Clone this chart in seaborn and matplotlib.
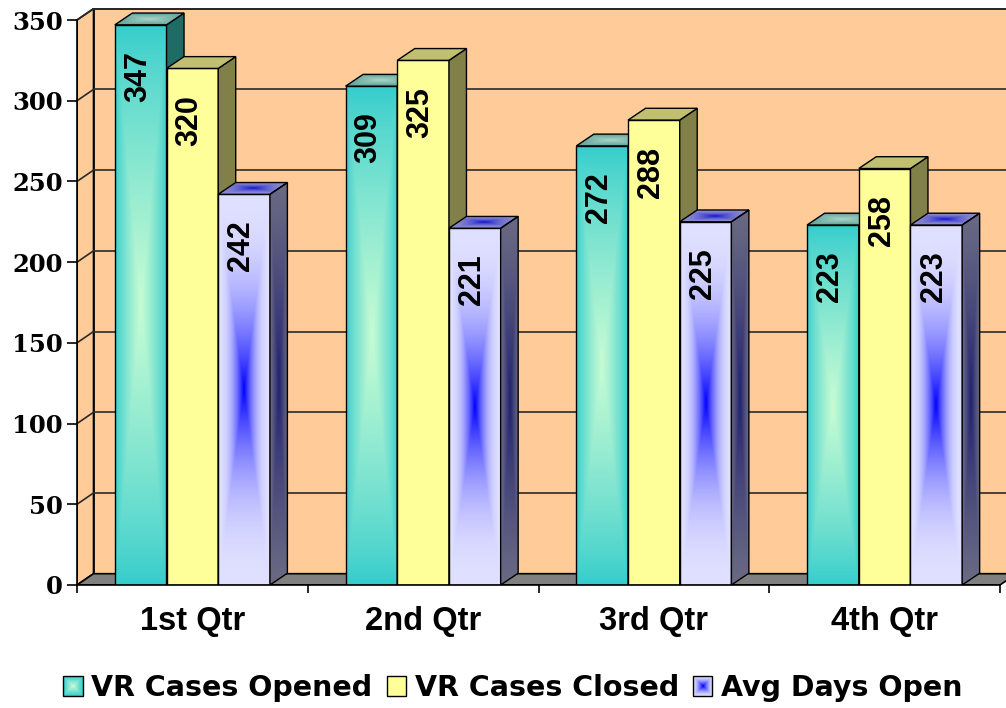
import numpy as np
import matplotlib
matplotlib.use("Agg")
import matplotlib.pyplot as plt
import seaborn as sns
import pandas as pd
from matplotlib.patches import Polygon, Rectangle
from matplotlib.colors import to_rgb
from matplotlib.legend_handler import HandlerBase
from matplotlib.image import BboxImage
from matplotlib.transforms import Bbox, TransformedBbox

# ---------------- data ----------------
quarters = ["1st Qtr", "2nd Qtr", "3rd Qtr", "4th Qtr"]
series = ["VR Cases Opened", "VR Cases Closed", "Avg Days Open"]
cases_opened = [347, 309, 272, 223]
cases_closed = [320, 325, 288, 258]
avg_days_open = [242, 221, 225, 223]
y_ticks = [0, 50, 100, 150, 200, 250, 300, 350]

df = pd.DataFrame({
    "Quarter": quarters * 3,
    "Series": [s for s in series for _ in quarters],
    "Value": cases_opened + cases_closed + avg_days_open,
})

# ---------------- styles ----------------
front_colors = ["#33CCCC", "#FFFF99", "#E0E0FF"]
center_colors = ["#C8FCD4", None, "#0000FF"]
grad_power = [0.8, None, 2.2]
side_colors = ["#1F6B66", "#808048", "#5A5A7A"]
top_colors = ["#5A9E98", "#C0C070", "#8C8CD0"]
top_centers = ["#A9D6C6", None, "#1010D0"]
top_power = [1.0, None, 2.0]
WALL = "#FFCC99"
FLOOR = "#808080"

W, H = 1006, 708
sns.set_style("white")
plt.rcParams["font.family"] = ["Liberation Sans", "DejaVu Sans"]
plt.rcParams["text.color"] = "black"
plt.rcParams["xtick.color"] = "black"
plt.rcParams["ytick.color"] = "black"
plt.rcParams["xtick.labelcolor"] = "black"
plt.rcParams["ytick.labelcolor"] = "black"

fig = plt.figure(figsize=(W / 100, H / 100), dpi=100)
px0, px1 = 77, 1000      # x pixels for -0.5 .. 3.5
py0, py1 = 585, 20       # y pixels for 0 .. 350
ppx = (px1 - px0) / 4.0
ppy = (py0 - py1) / 350.0
xmin, xmax = -0.5, 3.5 + (W - px1) / ppx
ymin, ymax = 0, 350 + (py1 - 2) / ppy
ax = fig.add_axes([px0 / W, 1 - py0 / H, (W - px0) / W, (py0 - 2) / H])

WDX, WDY = 16.5 / ppx, 11.3 / ppy   # wall depth
BDX, BDY = 17.5 / ppx, 11.8 / ppy   # bar depth


def grad_img(center, edge, power, n=240):
    u = np.linspace(-1, 1, n)
    U, V = np.meshgrid(u, u)
    d = np.maximum(np.abs(U), np.abs(V))
    t = (1 - d) ** power
    c = np.array(to_rgb(center))
    e = np.array(to_rgb(edge))
    return e[None, None, :] * (1 - t[..., None]) + c[None, None, :] * t[..., None]


# back wall, side wall, gridlines, floor
ax.add_patch(Rectangle((-0.5 + WDX, WDY), 4 + WDX, 350, facecolor=WALL,
                       edgecolor="black", lw=1.2, zorder=0.5))
ax.add_patch(Polygon([(-0.5, 0), (-0.5 + WDX, WDY), (-0.5 + WDX, 350 + WDY), (-0.5, 350)],
                     closed=True, facecolor=WALL, edgecolor="black", lw=1.2, zorder=0.5))
for t in y_ticks[1:]:
    ax.plot([-0.5 + WDX, 3.5 + 2 * WDX], [t + WDY, t + WDY], color="#2a2a2a", lw=1.2, zorder=0.6)
    ax.plot([-0.5, -0.5 + WDX], [t, t + WDY], color="#2a2a2a", lw=1.2, zorder=0.6)
ax.add_patch(Polygon([(-0.5, 0), (3.5, 0), (3.5 + WDX, WDY), (-0.5 + WDX, WDY)],
                     closed=True, facecolor=FLOOR, edgecolor="black", lw=1.2, zorder=0.7))

# bars
sns.barplot(data=df, x="Quarter", y="Value", hue="Series", order=quarters,
            hue_order=series, palette=front_colors, saturation=1, width=0.672,
            errorbar=None, edgecolor="black", linewidth=1.0, legend=False, ax=ax)

for j, cont in enumerate(ax.containers):
    for rect in cont.patches:
        x, w, h = rect.get_x(), rect.get_width(), rect.get_height()
        z = 3 + j * 0.1
        if center_colors[j] is not None:
            img = grad_img(center_colors[j], front_colors[j], grad_power[j])
            im = ax.imshow(img, extent=[x, x + w, 0, h], origin="lower",
                           aspect="auto", interpolation="bilinear", zorder=z)
            im.set_clip_path(rect)
            rect.set_facecolor("none")
            rect.set_zorder(z + 0.01)
        else:
            rect.set_zorder(z)
        side = Polygon([(x + w, 0), (x + w + BDX, BDY), (x + w + BDX, h + BDY), (x + w, h)],
                       closed=True, facecolor=side_colors[j], edgecolor="black", lw=1.0,
                       zorder=z + 0.05)
        ax.add_patch(side)
        if j == 2:
            simg = grad_img("#202070", "#6A6A84", 1.2)
            sim = ax.imshow(simg, extent=[x + w, x + w + BDX, 0, h + BDY], origin="lower",
                            aspect="auto", interpolation="bilinear", zorder=z + 0.05)
            sim.set_clip_path(side)
            side.set_facecolor("none")
            side.set_zorder(z + 0.06)
        top = Polygon([(x, h), (x + BDX, h + BDY), (x + w + BDX, h + BDY), (x + w, h)],
                      closed=True, facecolor=top_colors[j], edgecolor="black", lw=1.0,
                      zorder=z + 0.05)
        ax.add_patch(top)
        if top_centers[j] is not None:
            timg = grad_img(top_centers[j], top_colors[j], top_power[j])
            tim = ax.imshow(timg, extent=[x, x + w + BDX, h, h + BDY], origin="lower",
                            aspect="auto", interpolation="bilinear", zorder=z + 0.05)
            tim.set_clip_path(top)
            top.set_facecolor("none")
            top.set_zorder(z + 0.06)
        ax.annotate(f"{int(round(h))}", xy=(x + w / 2, h), xytext=(-2, -19),
                    textcoords="offset points", rotation=90, ha="center", va="top",
                    fontsize=22, fontweight="bold", color="black", zorder=6)

# front axis lines
ax.plot([-0.5, -0.5], [0, 350], color="black", lw=1.2, zorder=7, clip_on=False)
ax.plot([-0.5, 3.5], [0, 0], color="black", lw=1.2, zorder=7, clip_on=False)

for s in ax.spines.values():
    s.set_visible(False)
ax.set_xlim(xmin, xmax)
ax.set_ylim(ymin, ymax)
ax.set_yticks(y_ticks)
ax.set_yticklabels([str(t) for t in y_ticks], family="DejaVu Serif",
                   fontweight="heavy", fontsize=17.5, color="black")
ax.set_xticks([-0.5, 0.5, 1.5, 2.5, 3.5])
ax.set_xticklabels([])
ax.set_xticks(range(len(quarters)), minor=True)
ax.set_xticklabels(quarters, minor=True, fontsize=23.5, fontweight="bold", color="black")
ax.tick_params(axis="y", which="major", left=True, length=7, width=1.2, pad=3, color="black")
ax.tick_params(axis="x", which="major", bottom=True, length=6, width=1.2, color="black")
ax.tick_params(axis="x", which="minor", bottom=True, length=0, pad=15)
ax.set_xlabel("")
ax.set_ylabel("")
ax.grid(False)


class GradHandler(HandlerBase):
    def __init__(self, face, img):
        super().__init__()
        self.face = face
        self.img = img

    def create_artists(self, legend, orig_handle, xdescent, ydescent, width, height,
                       fontsize, trans):
        arts = []
        if self.img is not None:
            bb = TransformedBbox(Bbox.from_bounds(-xdescent, -ydescent, width, height), trans)
            bi = BboxImage(bb, interpolation="bilinear")
            bi.set_data(self.img)
            arts.append(bi)
            fc = "none"
        else:
            fc = self.face
        r = Rectangle((-xdescent, -ydescent), width, height, facecolor=fc,
                      edgecolor="black", lw=1.0, transform=trans)
        arts.append(r)
        return arts


handles = [Rectangle((0, 0), 1, 1) for _ in series]
hmap = {}
for j, hd in enumerate(handles):
    img = None
    if center_colors[j] is not None:
        img = grad_img(center_colors[j], front_colors[j], 1.0 if j == 0 else 1.6)
    hmap[hd] = GradHandler(front_colors[j], img)

leg = fig.legend(handles, series, handler_map=hmap, loc="center",
                 bbox_to_anchor=(513 / W, 1 - 688 / H), ncol=3, frameon=False,
                 prop={"family": "DejaVu Sans", "weight": "bold", "size": 20.5},
                 handlelength=0.68, handleheight=0.68, handletextpad=0.3,
                 columnspacing=0.5)
for txt in leg.get_texts():
    txt.set_color("black")

fig.savefig("out.png", dpi=100)
